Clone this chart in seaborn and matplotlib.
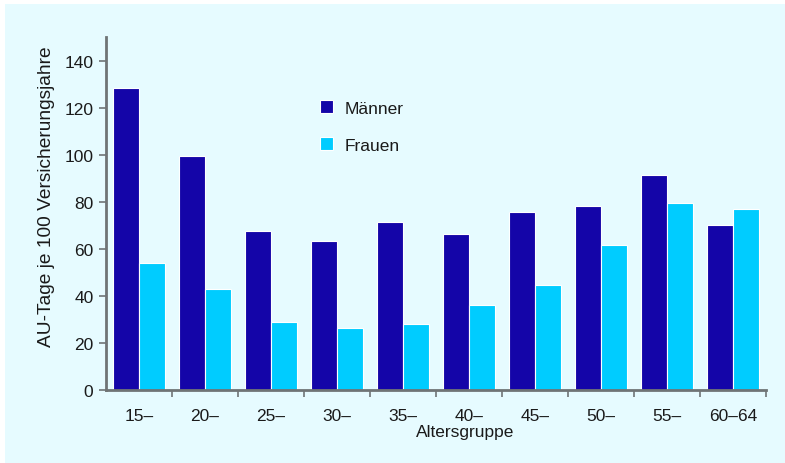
import pandas as pd
import matplotlib.pyplot as plt
import matplotlib.patches as mpatches
import seaborn as sns

# Werte
altersgruppen = ['15–', '20–', '25–', '30–', '35–', '40–', '45–', '50–', '55–', '60–64']
maenner = [128.2, 99.4, 67.5, 63.3, 71.4, 66.3, 75.6, 78.2, 91.3, 70.1]
frauen = [53.9, 42.9, 28.9, 26.3, 28.0, 36.1, 44.6, 61.6, 79.4, 76.9]
y_ticks = [0, 20, 40, 60, 80, 100, 120, 140]

BG = '#e6fbff'
DARK = '#1405a8'
LIGHT = '#00ccff'
AXIS = '#6f7475'


def main():
    df = pd.DataFrame({
        'Altersgruppe': altersgruppen * 2,
        'Wert': maenner + frauen,
        'Geschlecht': ['Männer'] * len(maenner) + ['Frauen'] * len(frauen),
    })

    sns.set_theme(style='white')
    plt.rcParams['font.family'] = ['Liberation Sans', 'DejaVu Sans']

    fig = plt.figure(figsize=(7.85, 4.64), dpi=100, facecolor='white')
    # cyan panel with a thin white margin at top and left
    fig.patches.append(mpatches.Rectangle((5 / 785, 0), 1, 1 - 5 / 464,
                                          transform=fig.transFigure,
                                          facecolor=BG, edgecolor='none', zorder=-5))
    ax = fig.add_axes([106 / 785, (464 - 391) / 464, 660 / 785, 353 / 464])
    ax.set_facecolor(BG)

    sns.barplot(data=df, x='Altersgruppe', y='Wert', hue='Geschlecht',
                palette={'Männer': DARK, 'Frauen': LIGHT}, saturation=1,
                width=0.8, edgecolor='white', linewidth=0.8, errorbar=None, ax=ax)

    ax.set_xlim(-0.5, len(altersgruppen) - 0.5)
    ax.set_ylim(0, 150)
    ax.set_yticks(y_ticks)

    for side in ['top', 'right']:
        ax.spines[side].set_visible(False)
    for side in ['left', 'bottom']:
        ax.spines[side].set_color(AXIS)
        ax.spines[side].set_linewidth(2)

    ax.tick_params(axis='y', which='major', direction='out', length=5, width=1.2,
                   color=AXIS, labelsize=12.5, pad=4, left=True, labelcolor='#1a1a1a')
    ax.tick_params(axis='x', which='major', length=0, labelsize=12.5, pad=13,
                   labelcolor='#1a1a1a')
    ax.set_xticks([i - 0.5 for i in range(1, len(altersgruppen) + 1)], minor=True)
    ax.tick_params(axis='x', which='minor', direction='out', length=5, width=1.2,
                   color=AXIS, bottom=True)

    ax.set_xlabel('Altersgruppe', fontsize=12.5, color='#1a1a1a')
    ax.xaxis.set_label_coords(0.544, -0.096)
    ax.set_ylabel('AU-Tage je 100 Versicherungsjahre', fontsize=13.8, color='#1a1a1a')
    ax.yaxis.set_label_coords(-0.077, 0.55)

    leg = ax.legend(title=None, frameon=False, loc='upper left',
                    bbox_to_anchor=(0.30, 0.865), fontsize=12.5,
                    handlelength=0.75, handleheight=0.75, handletextpad=0.7,
                    labelspacing=1.25)
    for t in leg.get_texts():
        t.set_color('#1a1a1a')

    fig.savefig('out.png', dpi=100, facecolor='white')
    plt.close(fig)


if __name__ == '__main__':
    main()
